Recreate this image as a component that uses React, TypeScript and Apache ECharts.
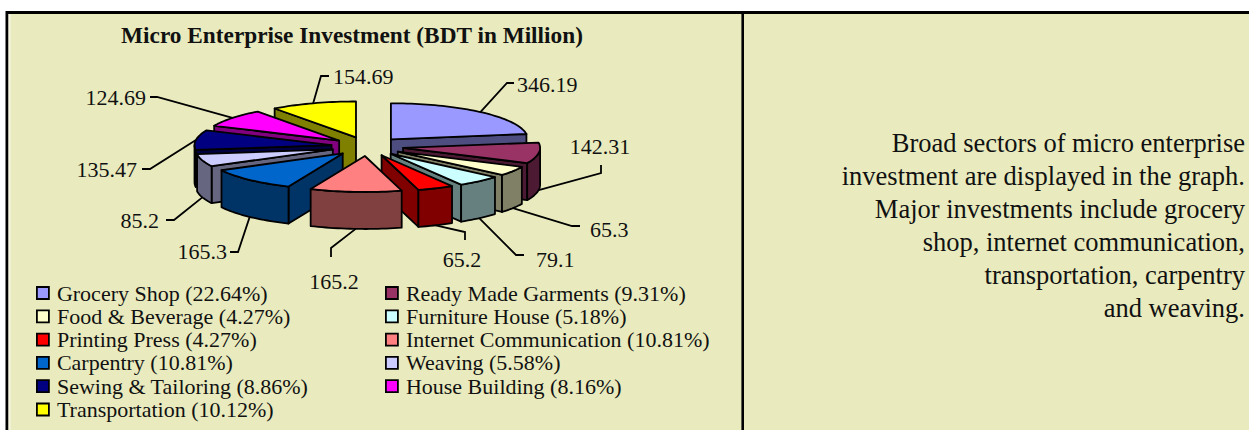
import React, { useEffect, useRef } from "react";
import * as echarts from "echarts";

const categories = ["Grocery Shop", "Ready Made Garments", "Food & Beverage", "Furniture House", "Printing Press", "Internet Communication", "Carpentry", "Weaving", "Sewing & Tailoring", "House Building", "Transportation"];
const values = [346.19, 142.31, 65.3, 79.1, 65.2, 165.2, 165.3, 85.2, 135.47, 124.69, 154.69];
const percents = ["22.64", "9.31", "4.27", "5.18", "4.27", "10.81", "10.81", "5.58", "8.86", "8.16", "10.12"];
const topColors = ["#9999ff", "#993366", "#ffffcc", "#ccffff", "#ff0000", "#ff8080", "#0066cc", "#ccccff", "#000080", "#ff00ff", "#ffff00"];
const wallColors = ["#4d4d80", "#4d1a33", "#808066", "#668080", "#800000", "#804040", "#003366", "#666680", "#000040", "#800080", "#808000"];
const noteLines = ["Broad sectors of micro enterprise", "investment are displayed in the graph.", "Major investments include grocery", "shop, internet communication,", "transportation, carpentry", "and weaving."];
const titleText = "Micro Enterprise Investment (BDT in Million)";

// Layout of the pseudo-3D pie
const CX = 367.3, CY = 146.5, RX = 137, RY = 36, DEPTH = 37, EXPLODE = 0.264;
// Leader elbows and label anchors, per category: [elbow, tail, label x, label y, align]
const leaderLayout: any[] = [
  [[507, 83], [514, 83], 517, 84, "left"],
  [[601, 173], [601, 165], 600, 146, "center"],
  [[572, 226], [580, 226], 590, 229, "left"],
  [[516, 255], [524, 255], 536, 259, "left"],
  [[465, 232], [465, 240], 462, 259, "center"],
  [[331, 248], [331, 257], 334, 281, "center"],
  [[238, 252], [230, 252], 227, 251, "right"],
  [[174, 220], [166, 220], 159, 220, "right"],
  [[150, 169], [142, 169], 137, 169, "right"],
  [[157, 97], [150, 97], 146, 97, "right"],
  [[321, 76], [329, 76], 333, 76, "left"],
];

const total = values.reduce((a, b) => a + b, 0);
const TAU = Math.PI * 2;
let acc = 0;
const sectors = values.map((v) => {
  const a0 = (acc / total) * TAU;
  acc += v;
  const a1 = (acc / total) * TAU;
  return { a0, a1, mid: (a0 + a1) / 2 };
});

function arcPoints(ax: number, ay: number, from: number, to: number, dy = 0) {
  const n = Math.max(2, Math.ceil((to - from) / 0.03));
  const pts: number[][] = [];
  for (let i = 0; i <= n; i++) {
    const t = from + ((to - from) * i) / n;
    pts.push([ax + RX * Math.sin(t), ay - RY * Math.cos(t) + dy]);
  }
  return pts;
}

function renderSector(index: number) {
  const { a0, a1, mid } = sectors[index];
  const ax = CX + EXPLODE * RX * Math.sin(mid);
  const ay = CY - EXPLODE * RY * Math.cos(mid);
  const stroke = { stroke: "#000", lineWidth: 1.8, lineJoin: "round" };
  const wall = { fill: wallColors[index], ...stroke };
  const children: any[] = [];
  const radial = (t: number) => {
    const px = ax + RX * Math.sin(t), py = ay - RY * Math.cos(t);
    children.push({ type: "polygon", shape: { points: [[ax, ay], [px, py], [px, py + DEPTH], [ax, ay + DEPTH]] }, style: wall });
  };
  if (Math.sin(a0) < 0) radial(a0);
  if (Math.sin(a1) > 0) radial(a1);
  const from = Math.max(a0, Math.PI / 2), to = Math.min(a1, (Math.PI * 3) / 2);
  if (to > from) {
    const upper = arcPoints(ax, ay, from, to);
    const lower = arcPoints(ax, ay, from, to, DEPTH).reverse();
    children.push({ type: "polygon", shape: { points: [...upper, ...lower] }, style: wall });
  }
  children.push({ type: "polygon", shape: { points: [[ax, ay], ...arcPoints(ax, ay, a0, a1)] }, style: { fill: topColors[index], ...stroke } });

  const front = Math.cos(mid) < 0;
  const start = [ax + RX * Math.sin(mid), ay - RY * Math.cos(mid) + (front ? DEPTH : 0)];
  const [elbow, tail, lx, ly, align] = leaderLayout[index];
  children.push({ type: "polyline", shape: { points: [start, elbow, tail] }, style: { stroke: "#000", lineWidth: 1.8, fill: "none" } });
  children.push({ type: "text", x: lx, y: ly, style: { text: String(values[index]), fontFamily: "Liberation Serif", fontSize: 22, fill: "#111", textAlign: align, textVerticalAlign: "middle" } });
  return { type: "group", children };
}

const legendNames = categories.map((c, i) => `${c} (${percents[i]}%)`);
const legendCommon = {
  orient: "vertical",
  icon: "rect",
  itemWidth: 12,
  itemHeight: 12,
  itemGap: 1.3,
  selectedMode: false,
  itemStyle: { borderColor: "#000", borderWidth: 1.8 },
  textStyle: { fontFamily: "Liberation Serif", fontSize: 22, color: "#111", lineHeight: 22, padding: [0, 0, 0, 3] },
  padding: 0,
  top: 282,
};

export default function App() {
  const ref = useRef<HTMLDivElement>(null);
  useEffect(() => {
    const chart = echarts.init(ref.current!, undefined, { renderer: "svg" });
    chart.setOption({
      animation: false,
      backgroundColor: "#fff",
      title: {
        text: titleText,
        left: 347,
        top: 18,
        textAlign: "center",
        textStyle: { fontFamily: "Liberation Serif", fontWeight: "bold", fontSize: 23.3, color: "#111" },
      },
      legend: [
        { ...legendCommon, left: 36, data: legendNames.filter((_, i) => i % 2 === 0) },
        { ...legendCommon, left: 385, data: legendNames.filter((_, i) => i % 2 === 1) },
      ],
      graphic: [
        { type: "rect", z: -10, shape: { x: 7, y: 12.5, width: 1245, height: 425 }, style: { fill: "#e9ebbe", stroke: "#000", lineWidth: 3 } },
        { type: "rect", z: -9, shape: { x: 8.5, y: 14, width: 2, height: 416 }, style: { fill: "#f6f6e4" } },
        { type: "line", z: -9, shape: { x1: 742.7, y1: 13, x2: 742.7, y2: 430 }, style: { stroke: "#000", lineWidth: 2.6 } },
        ...noteLines.map((t, i) => ({
          type: "text",
          z: 5,
          x: 1245,
          y: 142.5 + i * 33,
          style: { text: t, fontFamily: "Liberation Serif", fontSize: 26.5, fill: "#111", textAlign: "right", textVerticalAlign: "middle" },
        })),
      ],
      series: categories.map((_, i) => ({
        type: "custom",
        name: legendNames[i],
        coordinateSystem: "none",
        silent: true,
        z: 10 + Math.round((1 - Math.cos(sectors[i].mid)) * 10),
        itemStyle: { color: topColors[i] },
        data: [[values[i]]],
        renderItem: () => renderSector(i),
      })),
    });
    return () => chart.dispose();
  }, []);
  return <div ref={ref} style={{ position: "fixed", left: 0, top: 0, width: 1249, height: 430 }} />;
}
